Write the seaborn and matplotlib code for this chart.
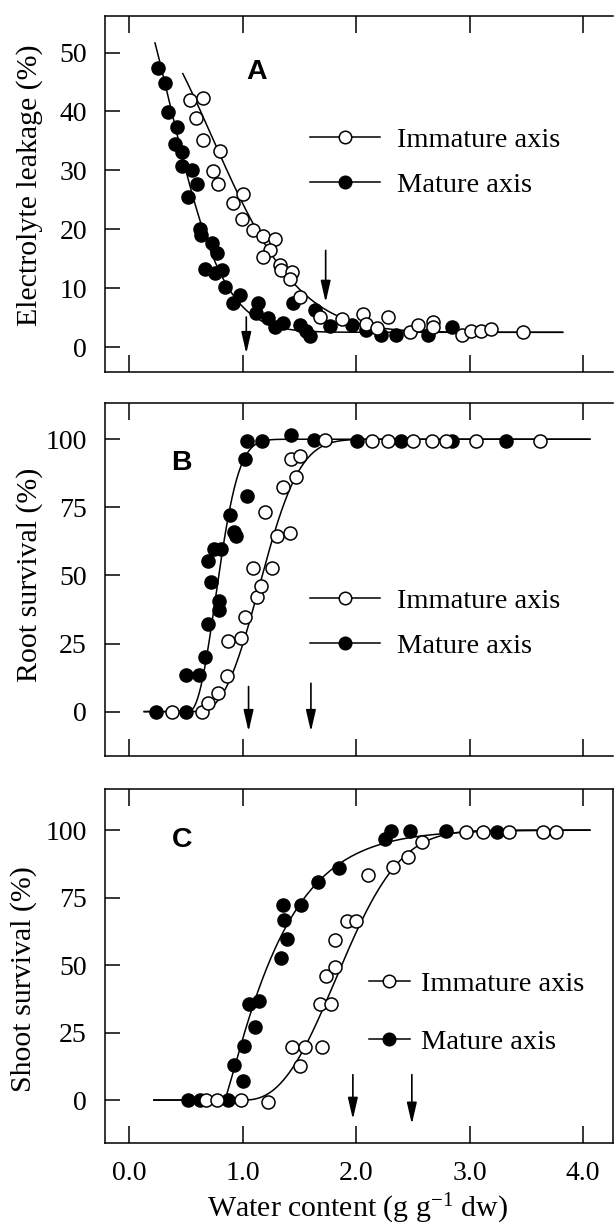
import numpy as np
import pandas as pd
import matplotlib
matplotlib.use("Agg")
import matplotlib.pyplot as plt
import seaborn as sns
from matplotlib.lines import Line2D

# ---------------- data ----------------
# Panel A : electrolyte leakage (%)
a_mat_x = [0.254, 0.313, 0.342, 0.416, 0.40, 0.46, 0.46, 0.548, 0.592, 0.518, 0.621, 0.63,
           0.724, 0.768, 0.665, 0.753, 0.812, 0.84, 0.974, 0.915, 1.135, 1.12, 1.22, 1.28,
           1.355, 1.44, 1.50, 1.56, 1.59, 1.634, 1.77, 1.96, 2.09, 2.22, 2.35, 2.63, 2.84]
a_mat_y = [47.3, 44.9, 39.9, 37.3, 34.4, 33.1, 30.8, 30.0, 27.6, 25.5, 20.1, 19.0,
           17.6, 15.9, 13.3, 12.5, 13.0, 10.2, 8.8, 7.4, 7.4, 5.7, 4.9, 3.4,
           4.0, 7.4, 3.7, 2.8, 1.9, 6.3, 3.6, 3.7, 2.9, 2.0, 2.0, 2.0, 3.4]
a_imm_x = [0.533, 0.645, 0.586, 0.645, 0.80, 0.738, 0.78, 1.003, 0.915, 0.99, 1.085, 1.18,
           1.28, 1.24, 1.18, 1.326, 1.34, 1.43, 1.414, 1.50, 1.68, 1.87, 2.06, 2.09, 2.18,
           2.28, 2.47, 2.54, 2.68, 2.68, 2.93, 3.01, 3.10, 3.19, 3.47]
a_imm_y = [41.9, 42.2, 38.9, 35.2, 33.3, 29.8, 27.7, 26.0, 24.5, 21.8, 19.8, 18.9,
           18.3, 16.4, 15.3, 13.9, 13.0, 12.7, 11.6, 8.5, 5.1, 4.7, 5.6, 3.9, 3.3,
           5.1, 2.5, 3.7, 4.2, 3.4, 2.0, 2.8, 2.8, 3.1, 2.6]

# Panel B : root survival (%)
b_mat_x = [0.234, 0.498, 0.498, 0.615, 0.665, 0.688, 0.723, 0.688, 0.79, 0.79, 0.747, 0.805,
           0.922, 0.937, 0.887, 1.034, 1.019, 1.04, 1.171, 1.42, 1.625, 2.006, 2.39, 2.84, 3.32]
b_mat_y = [0, 0, 13.5, 13.5, 20.2, 32.2, 47.4, 55.3, 40.6, 37.3, 59.6, 59.6,
           66.1, 64.3, 72.2, 79.2, 92.7, 99.5, 99.5, 101.5, 99.8, 99.5, 99.5, 99.5, 99.5]
b_imm_x = [0.372, 0.638, 0.694, 0.782, 0.858, 0.87, 0.98, 1.019, 1.127, 1.157, 1.092, 1.259,
           1.297, 1.414, 1.195, 1.356, 1.464, 1.42, 1.508, 1.728, 2.14, 2.28, 2.50, 2.67,
           2.79, 3.06, 3.62]
b_imm_y = [0, 0, 3.3, 6.7, 13.1, 25.9, 26.9, 34.6, 42.2, 46.1, 52.6, 52.6,
           64.3, 65.7, 73.1, 82.6, 86.3, 92.7, 93.9, 99.8, 99.5, 99.5, 99.5, 99.5,
           99.5, 99.5, 99.5]

# Panel C : shoot survival (%)
c_mat_x = [0.519, 0.62, 0.866, 0.925, 1.004, 1.011, 1.056, 1.139, 1.108, 1.333, 1.351, 1.364,
           1.392, 1.513, 1.662, 1.848, 2.251, 2.303, 2.476, 2.788, 3.245]
c_mat_y = [0, 0, 0, 12.9, 7.0, 20.2, 35.4, 36.7, 26.9, 52.5, 72.2, 66.7,
           59.6, 72.2, 80.8, 85.9, 96.7, 99.8, 99.8, 99.8, 99.4]
c_imm_x = [0.672, 0.769, 0.987, 1.219, 1.503, 1.437, 1.548, 1.697, 1.676, 1.773, 1.732, 1.808,
           1.815, 1.919, 1.998, 2.102, 2.327, 2.459, 2.58, 2.968, 3.117, 3.349, 3.643, 3.758]
c_imm_y = [0, 0, 0, -0.9, 12.7, 19.8, 19.8, 19.8, 35.5, 35.5, 45.8, 49.2,
           59.4, 66.3, 66.3, 83.5, 86.2, 90.2, 95.5, 99.4, 99.4, 99.4, 99.4, 99.4]

# fitted-curve parameters
# A: y = c + amp * exp(-q * x**p)
a_mat_fit = [2.5, 59.6, 2.628, 1.75]
a_imm_fit = [2.5, 54.1, 0.909, 1.95]
a_mat_range = [0.225, 3.82]
a_imm_range = [0.47, 3.82]
# B, C: y = 100 * (1 - exp(-((x - x0)/lam)**k)), 0 below x0
b_mat_fit = [0.52, 0.316, 2.2]
b_imm_fit = [0.58, 0.68, 2.6]
b_range = [0.13, 4.06]
c_mat_fit = [0.84, 0.5275, 1.127]
c_imm_fit = [1.0, 1.011, 2.47]
c_range = [0.215, 4.06]

# arrows (x position, y start, y end)
arrows_a = [[1.03, 5.1, -1.1], [1.73, 16.4, 7.6]]
arrows_b = [[1.05, 9.2, -7.3], [1.60, 10.4, -7.3]]
arrows_c = [[1.97, 9.4, -7.1], [2.49, 9.4, -8.9]]

labels_series = ["Immature axis", "Mature axis"]
xticks = [0, 1, 2, 3, 4]
xtick_labels = ["0.0", "1.0", "2.0", "3.0", "4.0"]
yticks_a = [0, 10, 20, 30, 40, 50]
yticks_bc = [0, 25, 50, 75, 100]

# ---------------- styling ----------------
plt.rcParams.update({
    "font.family": ["Liberation Serif", "DejaVu Serif"],
    "mathtext.fontset": "custom",
    "mathtext.rm": "Liberation Serif",
    "mathtext.it": "Liberation Serif:italic",
    "axes.linewidth": 1.1,
    "axes.edgecolor": "black",
    "text.color": "black",
    "xtick.color": "black",
    "ytick.color": "black",
})

W, H = 616, 1227
fig = plt.figure(figsize=(W / 100, H / 100), dpi=100)
LEFT, RIGHT = 105, 613
XLIM = (-0.216, 4.264)


def add_axes(top, bottom):
    return fig.add_axes([LEFT / W, 1 - bottom / H, (RIGHT - LEFT) / W, (bottom - top) / H])


axA = add_axes(16, 372)
axB = add_axes(403, 756)
axC = add_axes(789, 1143)


def decay(x, p):
    c, amp, q, pw = p
    return c + amp * np.exp(-q * x ** pw)


def weib(x, p):
    x0, lam, k = p
    d = np.clip(x - x0, 0, None)
    return 100 * (1 - np.exp(-(d / lam) ** k))


MS = 88
EW = 1.1
LW = 1.1


def draw_panel(ax, mx, my, ix, iy, curves):
    for xs, ys in curves:
        sns.lineplot(x=xs, y=ys, color="black", linewidth=LW, ax=ax,
                     estimator=None, sort=False, zorder=2)
    sns.scatterplot(x=mx, y=my, color="black", edgecolor="black", linewidth=EW,
                    s=MS, ax=ax, zorder=3)
    sns.scatterplot(x=ix, y=iy, color="white", edgecolor="black", linewidth=EW,
                    s=MS, ax=ax, zorder=4)


xa1 = np.linspace(*a_mat_range, 400)
xa2 = np.linspace(*a_imm_range, 400)
draw_panel(axA, a_mat_x, a_mat_y, a_imm_x, a_imm_y,
           [(xa1, decay(xa1, a_mat_fit)), (xa2, decay(xa2, a_imm_fit))])
xb = np.linspace(*b_range, 600)
draw_panel(axB, b_mat_x, b_mat_y, b_imm_x, b_imm_y,
           [(xb, weib(xb, b_mat_fit)), (xb, weib(xb, b_imm_fit))])
xc = np.linspace(*c_range, 600)
draw_panel(axC, c_mat_x, c_mat_y, c_imm_x, c_imm_y,
           [(xc, weib(xc, c_mat_fit)), (xc, weib(xc, c_imm_fit))])


def style(ax, ylim, yticks, show_xlabels, right):
    ax.set_xlim(XLIM)
    ax.set_ylim(ylim)
    ax.set_xticks(xticks)
    ax.set_xticklabels(xtick_labels if show_xlabels else [])
    ax.set_yticks(yticks)
    ax.tick_params(axis="y", direction="in", length=10.8, width=1.1, labelsize=20,
                   pad=13, right=False)
    ax.tick_params(axis="x", direction="in", length=12.2, width=1.1, labelsize=20,
                   pad=13, top=True, labelbottom=show_xlabels)
    ax.spines["right"].set_visible(right)
    ax.set_xlabel("")
    ax.set_ylabel("")


style(axA, (-4.24, 56.2), yticks_a, False, False)
style(axB, (-16.3, 113.3), yticks_bc, False, False)
style(axC, (-15.9, 115.2), yticks_bc, True, True)

axA.set_ylabel("Electrolyte leakage (%)", fontsize=21.5)
axA.yaxis.set_label_coords(-0.122, 0.525)
axB.set_ylabel("Root survival (%)", fontsize=21.5)
axB.yaxis.set_label_coords(-0.122, 0.514)
axC.set_ylabel("Shoot survival (%)", fontsize=21.5)
axC.yaxis.set_label_coords(-0.134, 0.463)
axC.set_xlabel(r"Water content (g g$^{-1}$ dw)", fontsize=21.5)
axC.xaxis.set_label_coords(0.498, -0.138)

# panel letters
for ax, letter, pos in [(axA, "A", (1.12, 46.7)), (axB, "B", (0.46, 91.2)),
                        (axC, "C", (0.466, 96.3))]:
    ax.text(pos[0], pos[1], letter, fontsize=20.5, fontweight="bold",
            family="Liberation Sans", ha="center", va="center")

# arrows
for ax, arrs in [(axA, arrows_a), (axB, arrows_b), (axC, arrows_c)]:
    for x0, y0, y1 in arrs:
        ax.annotate("", xy=(x0, y1), xytext=(x0, y0),
                    arrowprops=dict(arrowstyle="-|>,head_length=1.3,head_width=0.3",
                                    color="black", lw=1.2, shrinkA=0, shrinkB=0,
                                    mutation_scale=10))

# legends
handles = [Line2D([], [], color="black", lw=LW, marker="o", ms=9,
                  mfc="white", mec="black", mew=EW),
           Line2D([], [], color="black", lw=LW, marker="o", ms=9,
                  mfc="black", mec="black", mew=EW)]
for ax, anchor, hl, htp, ls in [(axA, (1.592, 37.4), 2.46, 0.6, 0.68),
                                (axB, (1.592, 45.4), 2.46, 0.6, 0.68),
                                (axC, (2.11, 47.8), 1.45, 0.4, 1.13)]:
    ax.legend(handles, labels_series, loc="upper left", bbox_to_anchor=anchor,
              bbox_transform=ax.transData, frameon=False, borderpad=0,
              borderaxespad=0, handlelength=hl, handletextpad=htp,
              labelspacing=ls, fontsize=20.5)

fig.savefig("out.png", dpi=100)
